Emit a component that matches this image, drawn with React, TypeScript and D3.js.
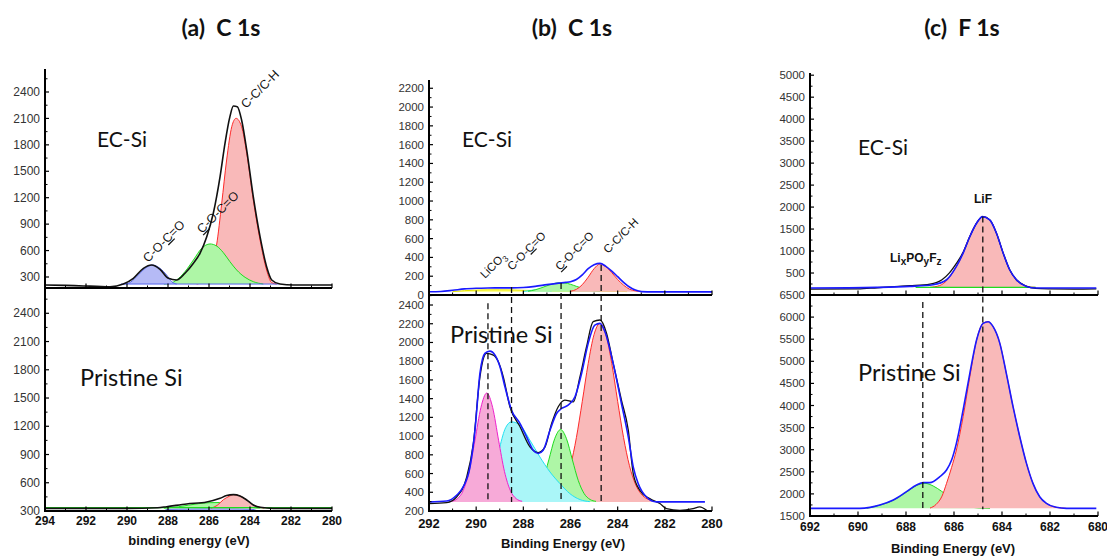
import React from 'react';
import * as d3 from 'd3';

type Pt = [number, number];

// ---------- panel (a) C 1s ----------
const aXTicks = [294, 292, 290, 288, 286, 284, 282, 280];
const aYTicks = [300, 600, 900, 1200, 1500, 1800, 2100, 2400];

const aTopEnvelope: Pt[] = [
  [294.0, 209], [293.0, 205], [292.13, 198], [291.5, 195], [290.83, 190], [290.18, 220],
  [289.69, 285], [289.2, 398], [288.8, 436], [288.39, 387], [287.98, 285], [287.58, 266],
  [287.17, 342], [286.76, 455], [286.44, 569], [286.11, 758], [285.79, 1023], [285.46, 1439],
  [285.22, 1817], [284.98, 2120], [284.81, 2241], [284.62, 2233], [284.41, 2082], [284.16, 1741],
  [283.84, 1212], [283.51, 758], [283.19, 417], [282.94, 266], [282.54, 220], [281.89, 209],
  [281.0, 209], [280.0, 209],
];
const aTopBlue: Pt[] = [
  [290.2, 220], [289.93, 228], [289.53, 304], [289.12, 398], [288.76, 436], [288.39, 398],
  [288.07, 323], [287.82, 247], [287.58, 220],
];
const aTopGreen: Pt[] = [
  [288.2, 220], [287.9, 228], [287.58, 266], [287.17, 361], [286.76, 493], [286.36, 625],
  [285.95, 675], [285.63, 652], [285.3, 576], [284.98, 474], [284.65, 379], [284.24, 296],
  [283.84, 247], [283.35, 220],
];
const aTopRed: Pt[] = [
  [286.6, 220], [286.2, 260], [285.9, 420], [285.63, 663], [285.38, 1136], [285.14, 1628],
  [284.89, 2006], [284.68, 2101], [284.41, 2006], [284.16, 1704], [283.84, 1174], [283.51, 720],
  [283.19, 379], [282.94, 236], [282.7, 220],
];
const aTopBaseline: Pt[] = [[290.3, 220], [282.6, 220]];

const aBotEnvelope: Pt[] = [
  [294.0, 328], [290.0, 328], [288.5, 335], [288.07, 346], [287.09, 375], [286.11, 396],
  [285.46, 435], [285.14, 464], [284.81, 474], [284.49, 460], [284.16, 417], [283.84, 364],
  [283.51, 339], [282.86, 328], [280.0, 328],
];
const aBotBlue: Pt[] = [
  [288.2, 300], [288.0, 318], [287.0, 322], [286.0, 324], [285.0, 324], [284.0, 320], [283.6, 300],
];
const aBotGreen: Pt[] = [
  [288.2, 330], [287.5, 345], [287.0, 362], [286.5, 378], [286.0, 388], [285.5, 390],
  [285.0, 380], [284.5, 362], [284.0, 340], [283.5, 330],
];
const aBotRed: Pt[] = [
  [285.9, 330], [285.6, 360], [285.3, 420], [285.0, 458], [284.81, 474], [284.49, 460],
  [284.16, 417], [283.84, 364], [283.51, 339], [283.3, 330],
];
const aBotBaseline: Pt[] = [[294.0, 336], [280.0, 336]];

// ---------- panel (b) C 1s ----------
const bXTicks = [292, 290, 288, 286, 284, 282, 280];
const bTopYTicks = [0, 200, 400, 600, 800, 1000, 1200, 1400, 1600, 1800, 2000, 2200];
const bBotYTicks = [200, 400, 600, 800, 1000, 1200, 1400, 1600, 1800, 2000, 2200, 2400];

const bTopEnvelope: Pt[] = [
  [292.0, 35], [291.5, 38], [291.0, 50], [290.5, 65], [290.0, 72], [289.5, 75], [289.0, 76],
  [288.5, 76], [288.0, 80], [287.5, 92], [287.0, 110], [286.5, 126], [286.2, 134], [286.0, 142],
  [285.75, 165], [285.5, 215], [285.25, 280], [285.0, 322], [284.75, 337], [284.5, 305],
  [284.25, 255], [284.0, 195], [283.75, 135], [283.5, 85], [283.25, 52], [283.0, 36],
  [282.5, 33], [282.0, 33], [281.0, 33], [280.0, 33],
];
const bTopYellow: Pt[] = [
  [291.0, 36], [290.5, 46], [290.0, 52], [289.5, 55], [289.0, 55], [288.5, 54], [288.0, 50],
  [287.0, 46], [286.0, 43], [285.0, 41], [284.0, 40], [283.6, 36],
];
const bTopCyan: Pt[] = [[288.0, 38], [287.7, 48], [287.4, 56], [287.1, 50], [286.8, 40]];
const bTopGreen: Pt[] = [
  [287.8, 40], [287.5, 55], [287.25, 75], [287.0, 98], [286.75, 118], [286.5, 130],
  [286.25, 128], [286.0, 114], [285.75, 92], [285.5, 72], [285.25, 55], [285.0, 44], [284.75, 40],
];
const bTopRed: Pt[] = [
  [286.0, 40], [285.75, 60], [285.5, 110], [285.25, 190], [285.0, 280], [284.75, 330],
  [284.5, 300], [284.25, 238], [284.0, 165], [283.75, 105], [283.5, 62], [283.25, 44], [283.0, 38],
];

const bBotRaw: Pt[] = [
  [292.0, 280], [291.25, 290], [290.83, 350], [290.4, 564], [290.12, 920], [289.84, 1633],
  [289.56, 1883], [289.27, 1865], [289.06, 1794], [288.85, 1633], [288.57, 1313], [288.14, 1099],
  [287.72, 885], [287.37, 824], [287.08, 885], [286.8, 1134], [286.52, 1313], [286.24, 1384],
  [285.88, 1366], [285.6, 1633], [285.32, 1954], [285.04, 2222], [284.75, 2240], [284.47, 2097],
  [284.19, 1776], [283.84, 1384], [283.55, 1063], [283.34, 600], [283.06, 421], [282.64, 332],
  [282.21, 280], [281.93, 225], [281.36, 207], [280.8, 225], [280.52, 243], [280.23, 207],
];
const bBotEnvelope: Pt[] = [
  [292.0, 297], [291.25, 307], [290.83, 368], [290.55, 457], [290.26, 671], [290.05, 1063],
  [289.84, 1669], [289.63, 1883], [289.42, 1908], [289.2, 1865], [288.99, 1740], [288.78, 1527],
  [288.5, 1277], [288.14, 1134], [287.86, 992], [287.58, 849], [287.37, 814], [287.16, 849],
  [286.87, 1063], [286.59, 1241], [286.38, 1295], [286.1, 1330], [285.81, 1420], [285.53, 1669],
  [285.25, 1990], [284.97, 2186], [284.75, 2204], [284.54, 2115], [284.19, 1776], [283.84, 1348],
  [283.55, 992], [283.34, 671], [283.13, 493], [282.78, 350], [282.35, 297], [280.3, 297],
];
const bBotPink: Pt[] = [
  [291.05, 304], [290.8, 331], [290.55, 418], [290.3, 622], [290.05, 956], [289.8, 1304],
  [289.55, 1460], [289.3, 1304], [289.05, 956], [288.8, 622], [288.55, 418], [288.3, 331], [288.05, 304],
];
const bBotCyan: Pt[] = [
  [289.6, 300], [289.3, 500], [289.0, 880], [288.75, 1090], [288.5, 1152], [288.14, 1117],
  [287.72, 956], [287.3, 778], [286.87, 617], [286.45, 493], [286.03, 386], [285.6, 322], [285.18, 300],
];
const bBotGreen: Pt[] = [
  [287.92, 303], [287.67, 323], [287.42, 385], [287.17, 525], [286.92, 746], [286.67, 972],
  [286.42, 1070], [286.17, 972], [285.92, 746], [285.67, 525], [285.42, 385], [285.17, 323], [284.92, 303],
];
const bBotRed: Pt[] = [
  [287.0, 308], [286.75, 329], [286.5, 381], [286.25, 489], [286.0, 684], [285.75, 984],
  [285.5, 1371], [285.25, 1775], [285.0, 2086], [284.75, 2204], [284.5, 2086], [284.25, 1775],
  [284.0, 1371], [283.75, 984], [283.5, 684], [283.25, 489], [283.0, 381], [282.75, 329], [282.5, 308],
];
// [energy, panel the dash starts in, value where it starts]
const bDashes: [number, 'top' | 'bot', number][] = [
  [289.5, 'bot', 2420], [288.5, 'top', 85], [286.4, 'top', 128], [284.7, 'top', 320],
];

// ---------- panel (c) F 1s ----------
const cXTicks = [692, 690, 688, 686, 684, 682, 680];
const cTopYTicks = [500, 1000, 1500, 2000, 2500, 3000, 3500, 4000, 4500, 5000];
const cBotYTicks = [1500, 2000, 2500, 3000, 3500, 4000, 4500, 5000, 5500, 6000, 6500];

const cTopRaw: Pt[] = [
  [692.0, 135], [690.0, 138], [689.2, 165], [688.3, 195], [687.84, 211], [687.0, 249],
  [686.5, 347], [686.2, 498], [685.9, 720], [685.62, 970], [685.34, 1330], [685.06, 1633],
  [684.81, 1784], [684.51, 1709], [684.23, 1406], [683.95, 952], [683.68, 574], [683.4, 347],
  [683.0, 200], [682.6, 150], [682.0, 140], [681.0, 135], [680.07, 140],
];
const cTopEnvelope: Pt[] = [
  [692.0, 158], [689.23, 173], [687.84, 196], [686.87, 234], [686.31, 347], [685.9, 650],
  [685.62, 952], [685.34, 1330], [685.06, 1633], [684.81, 1784], [684.51, 1709], [684.23, 1406],
  [683.95, 952], [683.68, 574], [683.4, 347], [682.98, 196], [682.57, 158], [680.07, 158],
];
const cTopRed: Pt[] = [
  [687.0, 175], [686.6, 215], [686.3, 330], [686.0, 560], [685.75, 800], [685.5, 1130],
  [685.25, 1450], [685.0, 1690], [684.81, 1784], [684.5, 1705], [684.23, 1406], [683.95, 952],
  [683.68, 574], [683.4, 347], [683.1, 230], [682.8, 180], [682.6, 173],
];
const cTopGreenLine: Pt[] = [[687.6, 173], [682.6, 173]];

const cBotEnvelope: Pt[] = [
  [692.0, 1673], [689.92, 1673], [689.5, 1696], [689.09, 1749], [688.53, 1862], [687.98, 2050],
  [687.56, 2201], [687.28, 2254], [687.01, 2254], [686.59, 2390], [686.31, 2541], [686.1, 2767],
  [685.9, 3144], [685.62, 3898], [685.34, 4727], [685.06, 5481], [684.79, 5858], [684.58, 5896],
  [684.37, 5783], [684.09, 5406], [683.82, 4727], [683.54, 3973], [683.26, 3294], [682.98, 2691],
  [682.71, 2239], [682.43, 1937], [682.15, 1787], [681.74, 1696], [681.32, 1673], [680.07, 1673],
];
const cBotGreen: Pt[] = [
  [689.64, 1673], [689.09, 1745], [688.53, 1855], [687.98, 2040], [687.56, 2190], [687.21, 2239],
  [686.87, 2180], [686.52, 2060], [686.17, 1920], [685.76, 1790], [685.34, 1710], [684.93, 1680], [684.5, 1673],
];
const cBotRed: Pt[] = [
  [687.0, 1680], [686.75, 1760], [686.5, 1950], [686.31, 2239], [686.1, 2600], [685.9, 2993],
  [685.62, 3747], [685.34, 4651], [685.06, 5481], [684.79, 5858], [684.58, 5896], [684.37, 5783],
  [684.09, 5406], [683.82, 4727], [683.54, 3973], [683.26, 3294], [682.98, 2691], [682.71, 2239],
  [682.43, 1937], [682.15, 1787], [681.74, 1696], [681.32, 1673],
];
const cDashes: [number, 'top' | 'bot', number][] = [[687.3, 'bot', 6340], [684.8, 'top', 1784]];

// colours
const RED = { fill: '#f9b9b9', stroke: '#ff2a2a' };
const GREEN = { fill: '#aef6a6', stroke: '#1fdc1f' };
const BLUE = { fill: '#b5baf6', stroke: '#5566ee' };
const PINK = { fill: '#f7aad8', stroke: '#ee22cc' };
const CYAN = { fill: '#aaf6f8', stroke: '#22e2f2' };
const YELLOW = { fill: '#ffff70', stroke: '#e6e600' };

type Comp = { data: Pt[]; base: number; fill: string; stroke: string };
type Ln = { data: Pt[]; stroke: string; width: number };
type Lin = d3.ScaleLinear<number, number>;

const TICK_FONT = 'Liberation Sans, Arial, sans-serif';

function SubPlot({ x, y, yTicks, xTicks, comps, lines, xLabelY, xLabelSize, yTop, yFont = 12 }: {
  x: Lin; y: Lin; yTicks: number[]; xTicks: number[]; comps: Comp[]; lines: Ln[];
  xLabelY?: number; xLabelSize?: number; yTop: number; yFont?: number;
}) {
  const [yb] = y.range();
  const [xl, xr] = x.range();
  const step = yTicks[1] - yTicks[0];
  const [d0, d1] = y.domain();
  const yMinor = [yTicks[0] - step / 2, ...yTicks.map(t => t + step / 2)].filter(v => v > d0 && v < d1);
  const xMinor = xTicks.slice(1).map((t, i) => (t + xTicks[i]) / 2);
  const line = d3.line<Pt>().x(d => x(d[0])).y(d => y(d[1])).curve(d3.curveMonotoneX);
  return (
    <g>
      {comps.map((c, i) => {
        const area = d3.area<Pt>().x(d => x(d[0])).y0(y(c.base)).y1(d => y(d[1])).curve(d3.curveMonotoneX);
        return (
          <g key={'c' + i}>
            <path d={area(c.data) || ''} fill={c.fill} />
            <path d={line(c.data) || ''} fill="none" stroke={c.stroke} strokeWidth={1} />
          </g>
        );
      })}
      {lines.map((l, i) => (
        <path key={'l' + i} d={line(l.data) || ''} fill="none" stroke={l.stroke} strokeWidth={l.width} strokeLinejoin="round" />
      ))}
      <line x1={xl} x2={xl} y1={yTop} y2={yb} stroke="#000" strokeWidth={2} />
      <line x1={xl - 1} x2={xr} y1={yb} y2={yb} stroke="#000" strokeWidth={2.2} />
      {yTicks.map(t => (
        <g key={'yt' + t}>
          <line x1={xl} x2={xl + 4} y1={y(t)} y2={y(t)} stroke="#000" strokeWidth={1.2} />
          <text x={xl - 5} y={y(t)} dy="0.35em" textAnchor="end" fontFamily={TICK_FONT} fontSize={yFont} fill="#333">{t}</text>
        </g>
      ))}
      {yMinor.map(t => (
        <line key={'ym' + t} x1={xl} x2={xl + 2.5} y1={y(t)} y2={y(t)} stroke="#000" strokeWidth={1} />
      ))}
      {xTicks.map(t => (
        <g key={'xt' + t}>
          <line x1={x(t)} x2={x(t)} y1={yb} y2={yb - 4.5} stroke="#000" strokeWidth={1.2} />
          {xLabelY !== undefined && (
            <text x={x(t)} y={xLabelY} textAnchor="middle" fontFamily={TICK_FONT} fontWeight="bold" fontSize={xLabelSize} fill="#111">{t}</text>
          )}
        </g>
      ))}
      {xMinor.map(t => (
        <line key={'xm' + t} x1={x(t)} x2={x(t)} y1={yb} y2={yb - 2.5} stroke="#000" strokeWidth={1} />
      ))}
    </g>
  );
}

const Rot = ({ x, y, size = 12.5, children }: { x: number; y: number; size?: number; children: React.ReactNode }) => (
  <text transform={`translate(${x},${y}) rotate(-45)`} fontFamily={TICK_FONT} fontSize={size} fill="#111">{children}</text>
);
const U = ({ children }: { children: React.ReactNode }) => (
  <tspan style={{ textDecoration: 'underline' }}>{children}</tspan>
);

const SANS = 'Lato, "Open Sans", sans-serif';

export default function App() {
  // (a)
  const ax = d3.scaleLinear().domain([294, 280]).range([45, 332]);
  const ayTop = d3.scaleLinear().domain([175, 2661]).range([288, 69]);
  const ayBot = d3.scaleLinear().domain([300, 2658]).range([511, 289]);
  // (b)
  const bx = d3.scaleLinear().domain([292, 280]).range([429, 712]);
  const byTop = d3.scaleLinear().domain([0, 2288]).range([295, 80]);
  const byBot = d3.scaleLinear().domain([200, 2507]).range([511, 295]);
  // (c)
  const cx = d3.scaleLinear().domain([692, 680]).range([810, 1098]);
  const cyTop = d3.scaleLinear().domain([0, 5050]).range([295, 73]);
  const cyBot = d3.scaleLinear().domain([1500, 6500]).range([516, 295]);

  const dash = (scaleX: Lin, top: Lin, bot: Lin, d: [number, 'top' | 'bot', number], endV: number) => {
    const [e, p, v] = d;
    const y1 = p === 'top' ? top(v) : bot(v);
    return <line key={'d' + e} x1={scaleX(e)} x2={scaleX(e)} y1={y1} y2={bot(endV)} stroke="#111" strokeWidth={1.3} strokeDasharray="6,4" />;
  };

  return (
    <svg width={1107} height={556} style={{ position: 'absolute', left: 0, top: 0, background: '#fff' }}>
      <rect width={1107} height={556} fill="#fff" />
      {/* titles */}
      <text x={221} y={36} textAnchor="middle" fontFamily={SANS} fontWeight="bold" fontSize={23} fill="#111">{'(a)\u00a0\u00a0C 1s'}</text>
      <text x={572} y={36} textAnchor="middle" fontFamily={SANS} fontWeight="bold" fontSize={23} fill="#111">{'(b)\u00a0\u00a0C 1s'}</text>
      <text x={962} y={36} textAnchor="middle" fontFamily={SANS} fontWeight="bold" fontSize={23} fill="#111">{'(c)\u00a0\u00a0F 1s'}</text>

      {/* (a) */}
      <SubPlot x={ax} y={ayTop} yTicks={aYTicks} xTicks={aXTicks} yTop={69}
        comps={[
          { data: aTopRed, base: 220, ...RED },
          { data: aTopGreen, base: 220, ...GREEN },
          { data: aTopBlue, base: 220, ...BLUE },
        ]}
        lines={[{ data: aTopBaseline, stroke: '#5566ee', width: 1 }, { data: aTopEnvelope, stroke: '#111', width: 1.6 }]} />
      <SubPlot x={ax} y={ayBot} yTicks={aYTicks} xTicks={aXTicks} yTop={289} xLabelY={525} xLabelSize={12}
        comps={[
          { data: aBotBlue, base: 300, ...BLUE },
          { data: aBotGreen, base: 330, ...GREEN },
          { data: aBotRed, base: 330, ...RED },
        ]}
        lines={[{ data: aBotBaseline, stroke: '#1fdc1f', width: 1.2 }, { data: aBotEnvelope, stroke: '#111', width: 1.6 }]} />
      <text x={97} y={147} fontFamily={SANS} fontSize={21} fill="#111">EC-Si</text>
      <text x={80} y={386} fontFamily={SANS} fontSize={23.5} fill="#111">Pristine Si</text>
      <Rot x={148} y={263}>C-O-<U>C</U>=O</Rot>
      <Rot x={202} y={234}><U>C</U>-O-C=O</Rot>
      <Rot x={246} y={109}>C-C/C-H</Rot>
      <text x={189} y={545} textAnchor="middle" fontFamily={TICK_FONT} fontWeight="bold" fontSize={13} fill="#111">binding energy (eV)</text>

      {/* (b) */}
      <SubPlot x={bx} y={byTop} yTicks={bTopYTicks} xTicks={bXTicks} yTop={80} yFont={11.5}
        comps={[
          { data: bTopYellow, base: 35, ...YELLOW },
          { data: bTopCyan, base: 35, ...CYAN },
          { data: bTopGreen, base: 35, ...GREEN },
          { data: bTopRed, base: 35, ...RED },
        ]}
        lines={[{ data: bTopEnvelope, stroke: '#1a1aff', width: 1.6 }]} />
      <SubPlot x={bx} y={byBot} yTicks={bBotYTicks} xTicks={bXTicks} yTop={295} xLabelY={528} xLabelSize={13} yFont={11.5}
        comps={[
          { data: bBotRed, base: 297, ...RED },
          { data: bBotGreen, base: 297, ...GREEN },
          { data: bBotCyan, base: 297, ...CYAN },
          { data: bBotPink, base: 297, ...PINK },
        ]}
        lines={[{ data: bBotRaw, stroke: '#111', width: 1.3 }, { data: bBotEnvelope, stroke: '#1a1aff', width: 1.6 }]} />
      {bDashes.map(d => dash(bx, byTop, byBot, d, 297))}
      <text x={462} y={147} fontFamily={SANS} fontSize={21} fill="#111">EC-Si</text>
      <text x={450} y={343} fontFamily={SANS} fontSize={23.5} fill="#111">Pristine Si</text>
      <Rot x={485} y={279} size={11.5}>LiCO<tspan dy={3} fontSize={8.5}>3</tspan></Rot>
      <Rot x={512} y={271} size={11.5}>C-O-<U>C</U>=O</Rot>
      <Rot x={560} y={271} size={11.5}><U>C</U>-O-C=O</Rot>
      <Rot x={608} y={254} size={11.5}>C-C/C-H</Rot>
      <text x={563} y={548} textAnchor="middle" fontFamily={TICK_FONT} fontWeight="bold" fontSize={13} fill="#111">Binding Energy (eV)</text>

      {/* (c) */}
      <SubPlot x={cx} y={cyTop} yTicks={cTopYTicks} xTicks={cXTicks} yTop={73} yFont={11.5}
        comps={[{ data: cTopRed, base: 173, ...RED }]}
        lines={[
          { data: cTopGreenLine, stroke: '#1fdc1f', width: 1.2 },
          { data: cTopRaw, stroke: '#111', width: 1.3 },
          { data: cTopEnvelope, stroke: '#1a1aff', width: 1.6 },
        ]} />
      <SubPlot x={cx} y={cyBot} yTicks={cBotYTicks} xTicks={cXTicks} yTop={295} xLabelY={531} xLabelSize={12} yFont={11.5}
        comps={[
          { data: cBotGreen, base: 1673, ...GREEN },
          { data: cBotRed, base: 1673, ...RED },
        ]}
        lines={[{ data: cBotEnvelope, stroke: '#1a1aff', width: 1.6 }]} />
      {cDashes.map(d => dash(cx, cyTop, cyBot, d, 1650))}
      <text x={858} y={155} fontFamily={SANS} fontSize={21} fill="#111">EC-Si</text>
      <text x={858} y={381} fontFamily={SANS} fontSize={23.5} fill="#111">Pristine Si</text>
      <text x={983} y={203} textAnchor="middle" fontFamily={TICK_FONT} fontWeight="bold" fontSize={12} fill="#111">LiF</text>
      <text x={890} y={262} fontFamily={TICK_FONT} fontWeight="bold" fontSize={12} fill="#111">
        Li<tspan dy={3} fontSize={10}>x</tspan><tspan dy={-3}>PO</tspan><tspan dy={3} fontSize={10}>y</tspan><tspan dy={-3}>F</tspan><tspan dy={3} fontSize={10}>z</tspan>
      </text>
      <text x={953} y={553} textAnchor="middle" fontFamily={TICK_FONT} fontWeight="bold" fontSize={13} fill="#111">Binding Energy (eV)</text>
    </svg>
  );
}
